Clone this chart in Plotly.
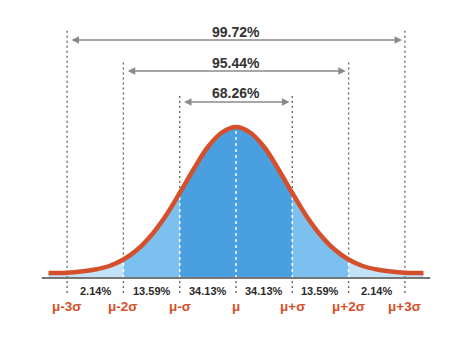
import plotly.graph_objects as go

# ---- data ----
sigma_pos = [-3, -2, -1, 0, 1, 2, 3]
sigma_labels = ["μ-3σ", "μ-2σ", "μ-σ", "μ", "μ+σ", "μ+2σ", "μ+3σ"]
band_mid = [-2.5, -1.5, -0.5, 0.5, 1.5, 2.5]
band_pcts = ["2.14%", "13.59%", "34.13%", "34.13%", "13.59%", "2.14%"]
range_k = [1, 2, 3]
range_pcts = ["68.26%", "95.44%", "99.72%"]

# curve heights (pixel-like units above baseline) read at z positions
half_z = [-3.33, -3, -2.75, -2.5, -2.25, -2, -1.75, -1.5, -1.25, -1, -0.75, -0.5, -0.25, 0]
half_h = [5, 5.2, 6.4, 8.5, 12, 18.5, 28.5, 43, 62, 85, 109, 131, 145.5, 151]
curve_z = half_z + [-z for z in reversed(half_z[:-1])]
curve_h = half_h + list(reversed(half_h[:-1]))

# ---- styles ----
ORANGE = "#d5502a"
C_LIGHT = "#c4e2f7"
C_MED = "#7cc0ef"
C_DARK = "#4a9fe0"
GRAY = "#6a6a6a"
FONT = "Liberation Sans, Arial, sans-serif"

# vertical levels (same units)
line_top = {1: 185, 2: 216, 3: 248}
arrow_y = {1: 176, 2: 207, 3: 238}
text_y = {1: 185, 2: 215, 3: 246}

fig = go.Figure()

def seg(lo, hi):
    pts = [(z, h) for z, h in zip(curve_z, curve_h) if lo <= z <= hi]
    return [p[0] for p in pts], [p[1] for p in pts]

for lo, hi, col in [(-9, -2, C_LIGHT), (2, 9, C_LIGHT), (-2, -1, C_MED), (1, 2, C_MED), (-1, 1, C_DARK)]:
    xs, ys = seg(lo, hi)
    fig.add_trace(go.Scatter(x=xs, y=ys, mode="lines", line=dict(width=0, shape="spline", color=col),
                             fill="tozeroy", fillcolor=col, hoverinfo="skip", showlegend=False))

height_at = dict(zip(curve_z, curve_h))

for z in sigma_pos:
    h = height_at[z]
    k = abs(z)
    if k < 3:
        fig.add_trace(go.Scatter(x=[z, z], y=[0, h], mode="lines",
                                 line=dict(color="white", width=1.5, dash="3px,3px"),
                                 hoverinfo="skip", showlegend=False))
    else:
        fig.add_trace(go.Scatter(x=[z, z], y=[0, h], mode="lines",
                                 line=dict(color=GRAY, width=1.4, dash="2px,3px"),
                                 hoverinfo="skip", showlegend=False))
    if k > 0:
        fig.add_trace(go.Scatter(x=[z, z], y=[h, line_top[k]], mode="lines",
                                 line=dict(color=GRAY, width=1.4, dash="2px,3px"),
                                 hoverinfo="skip", showlegend=False))
    fig.add_trace(go.Scatter(x=[z, z], y=[-3, -15], mode="lines",
                             line=dict(color=GRAY, width=1.4, dash="2px,3px"),
                             hoverinfo="skip", showlegend=False))

# baseline
fig.add_trace(go.Scatter(x=[-3.45, 3.45], y=[0, 0], mode="lines",
                         line=dict(color="#777777", width=2), hoverinfo="skip", showlegend=False))

# curve
fig.add_trace(go.Scatter(x=curve_z, y=curve_h, mode="lines",
                         line=dict(color=ORANGE, width=4.5, shape="spline"),
                         hoverinfo="skip", showlegend=False))

annotations = []
for k, t in zip(range_k, range_pcts):
    annotations.append(dict(x=k - 0.05, y=arrow_y[k], ax=-k + 0.05, ay=arrow_y[k],
                            xref="x", yref="y", axref="x", ayref="y", text="",
                            showarrow=True, arrowhead=2, arrowside="end+start",
                            arrowsize=1, arrowwidth=1.5, arrowcolor="#8a8a8a"))
    annotations.append(dict(x=0, y=text_y[k], xref="x", yref="y", text="<b>%s</b>" % t,
                            showarrow=False, font=dict(family=FONT, size=14, color="#333333")))
for z, t in zip(band_mid, band_pcts):
    annotations.append(dict(x=z, y=-13, xref="x", yref="y", text="<b>%s</b>" % t, showarrow=False,
                            font=dict(family=FONT, size=11, color="#2a2a2a")))
for z, t in zip(sigma_pos, sigma_labels):
    annotations.append(dict(x=z, y=-28, xref="x", yref="y", text="<b>%s</b>" % t, showarrow=False,
                            font=dict(family=FONT, size=13.5, color=ORANGE)))

fig.update_layout(
    width=474, height=344,
    margin=dict(l=0, r=0, t=0, b=0),
    paper_bgcolor="white", plot_bgcolor="white",
    xaxis=dict(range=[-236 / 56.3, 238 / 56.3], visible=False, fixedrange=True),
    yaxis=dict(range=[-66, 278], visible=False, fixedrange=True),
    annotations=annotations,
    showlegend=False,
)

fig.write_html("out.html")
